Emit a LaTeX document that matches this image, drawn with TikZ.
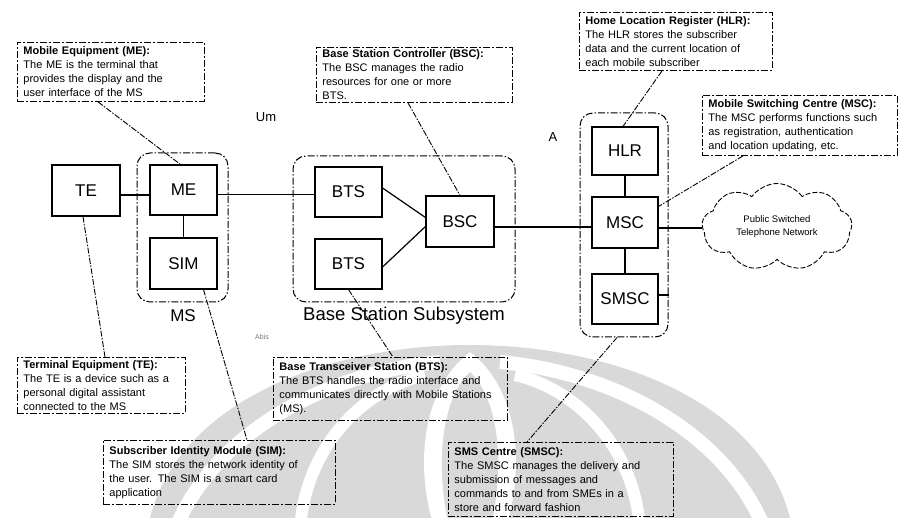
\documentclass[tikz,border=0pt]{standalone}
\usepackage{fontspec}
\setmainfont{Liberation Sans}
\usetikzlibrary{shapes.symbols}
\definecolor{markgrey}{RGB}{217,217,217}
\begin{document}
\begin{tikzpicture}[x=1pt,y=-1pt,
  unit/.style={draw, line width=1.1pt, inner sep=0pt, font=\fontsize{17}{19}\selectfont},
  group/.style={draw, line width=1pt, dash pattern=on 7pt off 2pt on 1.5pt off 2pt, rounded corners=13pt, inner sep=0pt},
  note/.style={draw, line width=0.9pt, dash pattern=on 7pt off 2pt on 2pt off 2pt, anchor=north west,
    inner xsep=6pt, inner ysep=0pt, align=left, font=\fontsize{11}{14}\selectfont},
  link/.style={line width=1.2pt},
  trunk/.style={line width=2pt},
  pointer/.style={line width=0.9pt, dash pattern=on 6pt off 1.5pt on 1.5pt off 1.5pt},
  iface/.style={font=\fontsize{13}{15}\selectfont}]

\useasboundingbox (0,0) rectangle (898,518);

% faint emblem behind the lower part of the drawing
\begin{scope}
  \clip (0,0) rectangle (898,518);
  \fill[markgrey] (150,518) .. controls (180,400) and (330,345) .. (470,345)
    .. controls (610,345) and (760,400) .. (790,518) -- cycle;
  \draw[white, line width=14pt] (175,530) .. controls (215,430) and (330,372) .. (440,362);
  \draw[white, line width=14pt] (765,530) .. controls (725,430) and (610,372) .. (500,362);
  \draw[white, line width=12pt] (300,530) .. controls (305,450) and (360,390) .. (425,375);
  \draw[white, line width=12pt] (640,530) .. controls (635,450) and (580,390) .. (515,375);
  \fill[white] (470,352) .. controls (520,390) and (525,470) .. (505,530) -- (435,530)
    .. controls (415,470) and (420,390) .. (470,352) -- cycle;
  \fill[markgrey] (470,372) .. controls (500,400) and (505,470) .. (490,530) -- (450,530)
    .. controls (435,470) and (440,400) .. (470,372) -- cycle;
\end{scope}

% subsystems
\node[group, minimum width=91pt, minimum height=149pt] (MSbox) at (182.5,227.5) {};
\node[group, minimum width=222pt, minimum height=146pt] (BSSbox) at (404,229) {};
\node[group, minimum width=88pt, minimum height=224pt] (Abox) at (624,225) {};

% network elements
\node[unit, minimum width=68pt, minimum height=51pt] (TE) at (86,190.5) {TE};
\node[unit, minimum width=67pt, minimum height=50pt] (ME) at (183.5,190) {ME};
\node[unit, minimum width=67pt, minimum height=51pt] (SIM) at (183.5,263.5) {SIM};
\node[unit, minimum width=67pt, minimum height=50pt] (BTS1) at (348.5,192) {BTS};
\node[unit, minimum width=67pt, minimum height=50pt] (BTS2) at (348.5,264) {BTS};
\node[unit, minimum width=68pt, minimum height=51pt] (BSC) at (460,221.5) {BSC};
\node[unit, minimum width=66pt, minimum height=48pt] (HLR) at (625,151) {HLR};
\node[unit, minimum width=66pt, minimum height=51pt] (MSC) at (625,222.5) {MSC};
\node[unit, minimum width=66pt, minimum height=50pt] (SMSC) at (625,299) {SMSC};

\node[cloud, draw, line width=0.9pt, dash pattern=on 5pt off 2pt, cloud puffs=9, cloud puff arc=110,
  aspect=1.8, minimum width=150pt, minimum height=87pt, inner sep=0pt, align=center,
  font=\fontsize{9.5}{13}\selectfont] (PSTN) at (777,227) {Public Switched\\Telephone Network};

% captions and interface names
\node[font=\fontsize{17}{19}\selectfont] (MSname) at (183,316) {MS};
\node[font=\fontsize{18.5}{20}\selectfont] (BSSname) at (404,316) {Base Station Subsystem};
\node[iface] (Um) at (266,117) {Um};
\node[iface] (Aif) at (553,137) {A};
\node[font=\fontsize{7}{8}\selectfont, text=black!55] (Abis) at (262,337) {Abis};

% links between elements
\draw[link] ([yshift=-4.5pt]TE.east) -- ([yshift=-4.5pt]TE.east -| ME.west);
\draw[line width=1pt] ([yshift=-5pt]ME.east) -- ([yshift=-5pt]ME.east -| BTS1.west);
\draw[link] (ME.south) -- (SIM.north);
\draw[link] ([yshift=4pt]BTS1.east) -- ([yshift=4pt]BSC.west);
\draw[link] ([yshift=-3pt]BTS2.east) -- ([yshift=-5pt]BSC.west);
\draw[trunk] ([yshift=-5.5pt]BSC.east) -- ([yshift=-5.5pt]BSC.east -| MSC.west);
\draw[link] (HLR.south) -- (MSC.north);
\draw[link] (MSC.south) -- (SMSC.north);
\draw[link] ([yshift=-5.5pt]MSC.east) -- ([yshift=-5.5pt]MSC.east -| PSTN.west);
\draw[link] ([yshift=4pt]SMSC.east) -- ([yshift=4pt]SMSC.east -| Abox.east);

% explanatory notes
\node[note, text width=175pt, minimum height=59pt] (menote) at (17,42)
  {\textbf{Mobile Equipment (ME):}\\The ME is the terminal that\\provides the display and the\\user interface of the MS};
\node[note, text width=184pt, minimum height=55pt] (bscnote) at (316,47)
  {\textbf{Base Station Controller (BSC):}\\The BSC manages the radio\\resources for one or more\\BTS.};
\node[note, text width=181pt, minimum height=58pt] (hlrnote) at (579,12)
  {\textbf{Home Location Register (HLR):}\\The HLR stores the subscriber\\data and the current location of\\each mobile subscriber};
\node[note, text width=183pt, minimum height=60pt] (mscnote) at (702,95)
  {\textbf{Mobile Switching Centre (MSC):}\\The MSC performs functions such\\as registration, authentication\\and location updating, etc.};
\node[note, text width=156pt, minimum height=56pt] (tenote) at (17,357)
  {\textbf{Terminal Equipment (TE):}\\The TE is a device such as a\\personal digital assistant\\connected to the MS};
\node[note, text width=222pt, minimum height=63pt] (btsnote) at (273,357)
  {\textbf{Base Transceiver Station (BTS):}\\The BTS handles the radio interface and\\communicates directly with Mobile Stations\\(MS).};
\node[note, text width=220pt, minimum height=64pt] (simnote) at (103,440)
  {\textbf{Subscriber Identity Module (SIM):}\\The SIM stores the network identity of\\the user. The SIM is a smart card\\application};
\node[note, text width=213pt, minimum height=74pt] (smscnote) at (448,442)
  {\textbf{SMS Centre (SMSC):}\\The SMSC manages the delivery and\\submission of messages and\\commands to and from SMEs in a\\store and forward fashion};

% pointers from notes to elements
\draw[pointer] ([xshift=81pt]menote.south west) -- ([xshift=-3pt]ME.north);
\draw[pointer] ([xshift=92pt]bscnote.south west) -- (BSC.north);
\draw[pointer] ([xshift=83pt]hlrnote.south west) -- ([xshift=-2pt]HLR.north);
\draw[pointer] ([xshift=41pt]mscnote.south west) -- ([yshift=-10pt]MSC.north east);
\draw[pointer] ([xshift=-3pt]TE.south) -- ([xshift=88pt]tenote.north west);
\draw[pointer] ([xshift=20pt]SIM.south) -- ([xshift=144pt]simnote.north west);
\draw[pointer] (BTS2.south) -- ([xshift=120pt]btsnote.north west);
\draw[pointer] ([xshift=-7pt]Abox.south) -- ([xshift=79pt]smscnote.north west);

\end{tikzpicture}
\end{document}
